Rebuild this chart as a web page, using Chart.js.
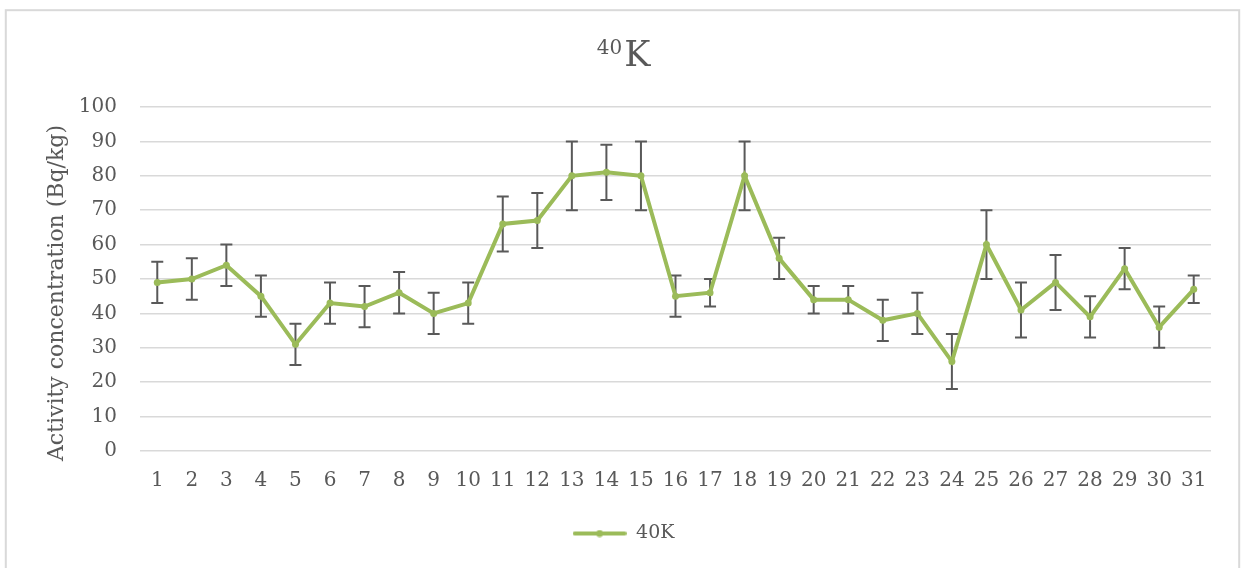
<!DOCTYPE html>
<html>
<head>
<meta charset="utf-8">
<title>40K activity concentration</title>
<script src="https://cdn.jsdelivr.net/npm/chart.js@4/dist/chart.umd.min.js"></script>
<style>
  html, body { margin: 0; padding: 0; background: #ffffff; }
  #wrap { position: relative; width: 1247px; height: 568px; }
</style>
</head>
<body>
<div id="wrap"><canvas id="chart" width="1247" height="568"></canvas></div>
<script>
// Sampling sites 1..31
const sites = ['1','2','3','4','5','6','7','8','9','10','11','12','13','14','15','16',
               '17','18','19','20','21','22','23','24','25','26','27','28','29','30','31'];

// 40K activity concentration (Bq/kg) per site
const k40 = [49, 50, 54, 45, 31, 43, 42, 46, 40, 43, 66, 67, 80, 81, 80, 45,
             46, 80, 56, 44, 44, 38, 40, 26, 60, 41, 49, 39, 53, 36, 47];

// Measurement uncertainty (± Bq/kg)
const k40Err = [6, 6, 6, 6, 6, 6, 6, 6, 6, 6, 8, 8, 10, 8, 10, 6,
                4, 10, 6, 4, 4, 6, 6, 8, 10, 8, 8, 6, 6, 6, 4];

const yAxisTitle = 'Activity concentration (Bq/kg)';

const TEXT = '#595959';
const GREEN = '#9BBB59';
const FONT = "'DejaVu Serif', serif";

// Legend symbol: a short line with a marker in the middle
const legendSymbol = document.createElement('canvas');
legendSymbol.width = 54;
legendSymbol.height = 8;
(function () {
  const g = legendSymbol.getContext('2d');
  g.strokeStyle = GREEN;
  g.lineWidth = 4;
  g.lineCap = 'round';
  g.beginPath();
  g.moveTo(2, 4);
  g.lineTo(52, 4);
  g.stroke();
  g.fillStyle = GREEN;
  g.beginPath();
  g.arc(27, 4, 3.5, 0, Math.PI * 2);
  g.fill();
})();

// Outer frame around the whole chart
const framePlugin = {
  id: 'frame',
  beforeDraw(chart) {
    const ctx = chart.ctx;
    ctx.save();
    ctx.fillStyle = '#ffffff';
    ctx.fillRect(0, 0, chart.width, chart.height);
    ctx.strokeStyle = '#d9d9d9';
    ctx.lineWidth = 2;
    ctx.strokeRect(5.8, 10.2, 1233.4, 700);
    ctx.restore();
  }
};

// Vertical error bars with caps, drawn under the line
const errorBarPlugin = {
  id: 'errorBars',
  beforeDatasetsDraw(chart) {
    const ctx = chart.ctx;
    const xs = chart.scales.x;
    const ys = chart.scales.y;
    const cap = 6;
    ctx.save();
    ctx.strokeStyle = '#595959';
    ctx.lineWidth = 2;
    k40.forEach((v, i) => {
      const e = k40Err[i];
      const x = xs.getPixelForValue(i);
      const yHi = ys.getPixelForValue(v + e);
      const yLo = ys.getPixelForValue(v - e);
      ctx.beginPath();
      ctx.moveTo(x, yHi);
      ctx.lineTo(x, yLo);
      ctx.moveTo(x - cap, yHi);
      ctx.lineTo(x + cap, yHi);
      ctx.moveTo(x - cap, yLo);
      ctx.lineTo(x + cap, yLo);
      ctx.stroke();
    });
    ctx.restore();
  }
};

// Chart title with a superscript mass number (40K) and the rotated value-axis title
const textPlugin = {
  id: 'chartTexts',
  afterDraw(chart) {
    const ctx = chart.ctx;
    const supFont = "20px " + FONT;
    const mainFont = "35px " + FONT;
    ctx.save();
    ctx.fillStyle = TEXT;
    ctx.textBaseline = 'alphabetic';
    ctx.textAlign = 'left';
    ctx.font = supFont;
    const wSup = ctx.measureText('40').width;
    ctx.font = mainFont;
    const wMain = ctx.measureText('K').width;
    const gap = 2;
    const x0 = chart.width / 2 - (wSup + gap + wMain) / 2;
    ctx.font = supFont;
    ctx.fillText('40', x0, 54);
    ctx.font = mainFont;
    ctx.fillText('K', x0 + wSup + gap, 66);

    // value-axis title, centred slightly below the plot's middle
    ctx.translate(57.5, 293);
    ctx.rotate(-Math.PI / 2);
    ctx.font = "22px " + FONT;
    ctx.textAlign = 'center';
    ctx.textBaseline = 'middle';
    ctx.fillText(yAxisTitle, 0, 0);
    ctx.restore();
  }
};

new Chart(document.getElementById('chart'), {
  type: 'line',
  data: {
    labels: sites,
    datasets: [{
      label: '40K',
      data: k40,
      borderColor: GREEN,
      backgroundColor: GREEN,
      borderWidth: 4,
      pointRadius: 3.5,
      pointHoverRadius: 3.5,
      pointBackgroundColor: GREEN,
      pointBorderWidth: 0,
      tension: 0,
      fill: false
    }]
  },
  options: {
    responsive: false,
    animation: false,
    layout: { padding: { top: 107, right: 0, bottom: 15, left: 0 } },
    plugins: {
      title: { display: false },
      tooltip: { enabled: false },
      legend: {
        display: true,
        position: 'bottom',
        labels: {
          usePointStyle: true,
          pointStyle: legendSymbol,
          pointStyleWidth: 54,
          color: TEXT,
          padding: 10,
          font: { family: FONT, size: 19 }
        }
      }
    },
    scales: {
      x: {
        type: 'category',
        offset: true,
        grid: { display: false, drawTicks: false },
        border: { display: false },
        ticks: {
          color: TEXT,
          padding: 18,
          maxRotation: 0,
          autoSkip: false,
          font: { family: FONT, size: 20 }
        },
        afterFit(scale) { scale.height = 63; }
      },
      y: {
        min: 0,
        max: 100,
        grid: { color: '#d9d9d9', lineWidth: 1.5, drawTicks: false },
        border: { display: false },
        ticks: {
          stepSize: 10,
          color: TEXT,
          padding: 23,
          font: { family: FONT, size: 20 }
        },
        afterFit(scale) { scale.width = 140; }
      },
      // empty right-hand margin so the plot stops short of the frame
      yMargin: {
        position: 'right',
        display: true,
        grid: { display: false, drawTicks: false },
        border: { display: false },
        ticks: { display: false },
        afterFit(scale) { scale.width = 36; }
      }
    }
  },
  plugins: [framePlugin, errorBarPlugin, textPlugin]
});
</script>
</body>
</html>
